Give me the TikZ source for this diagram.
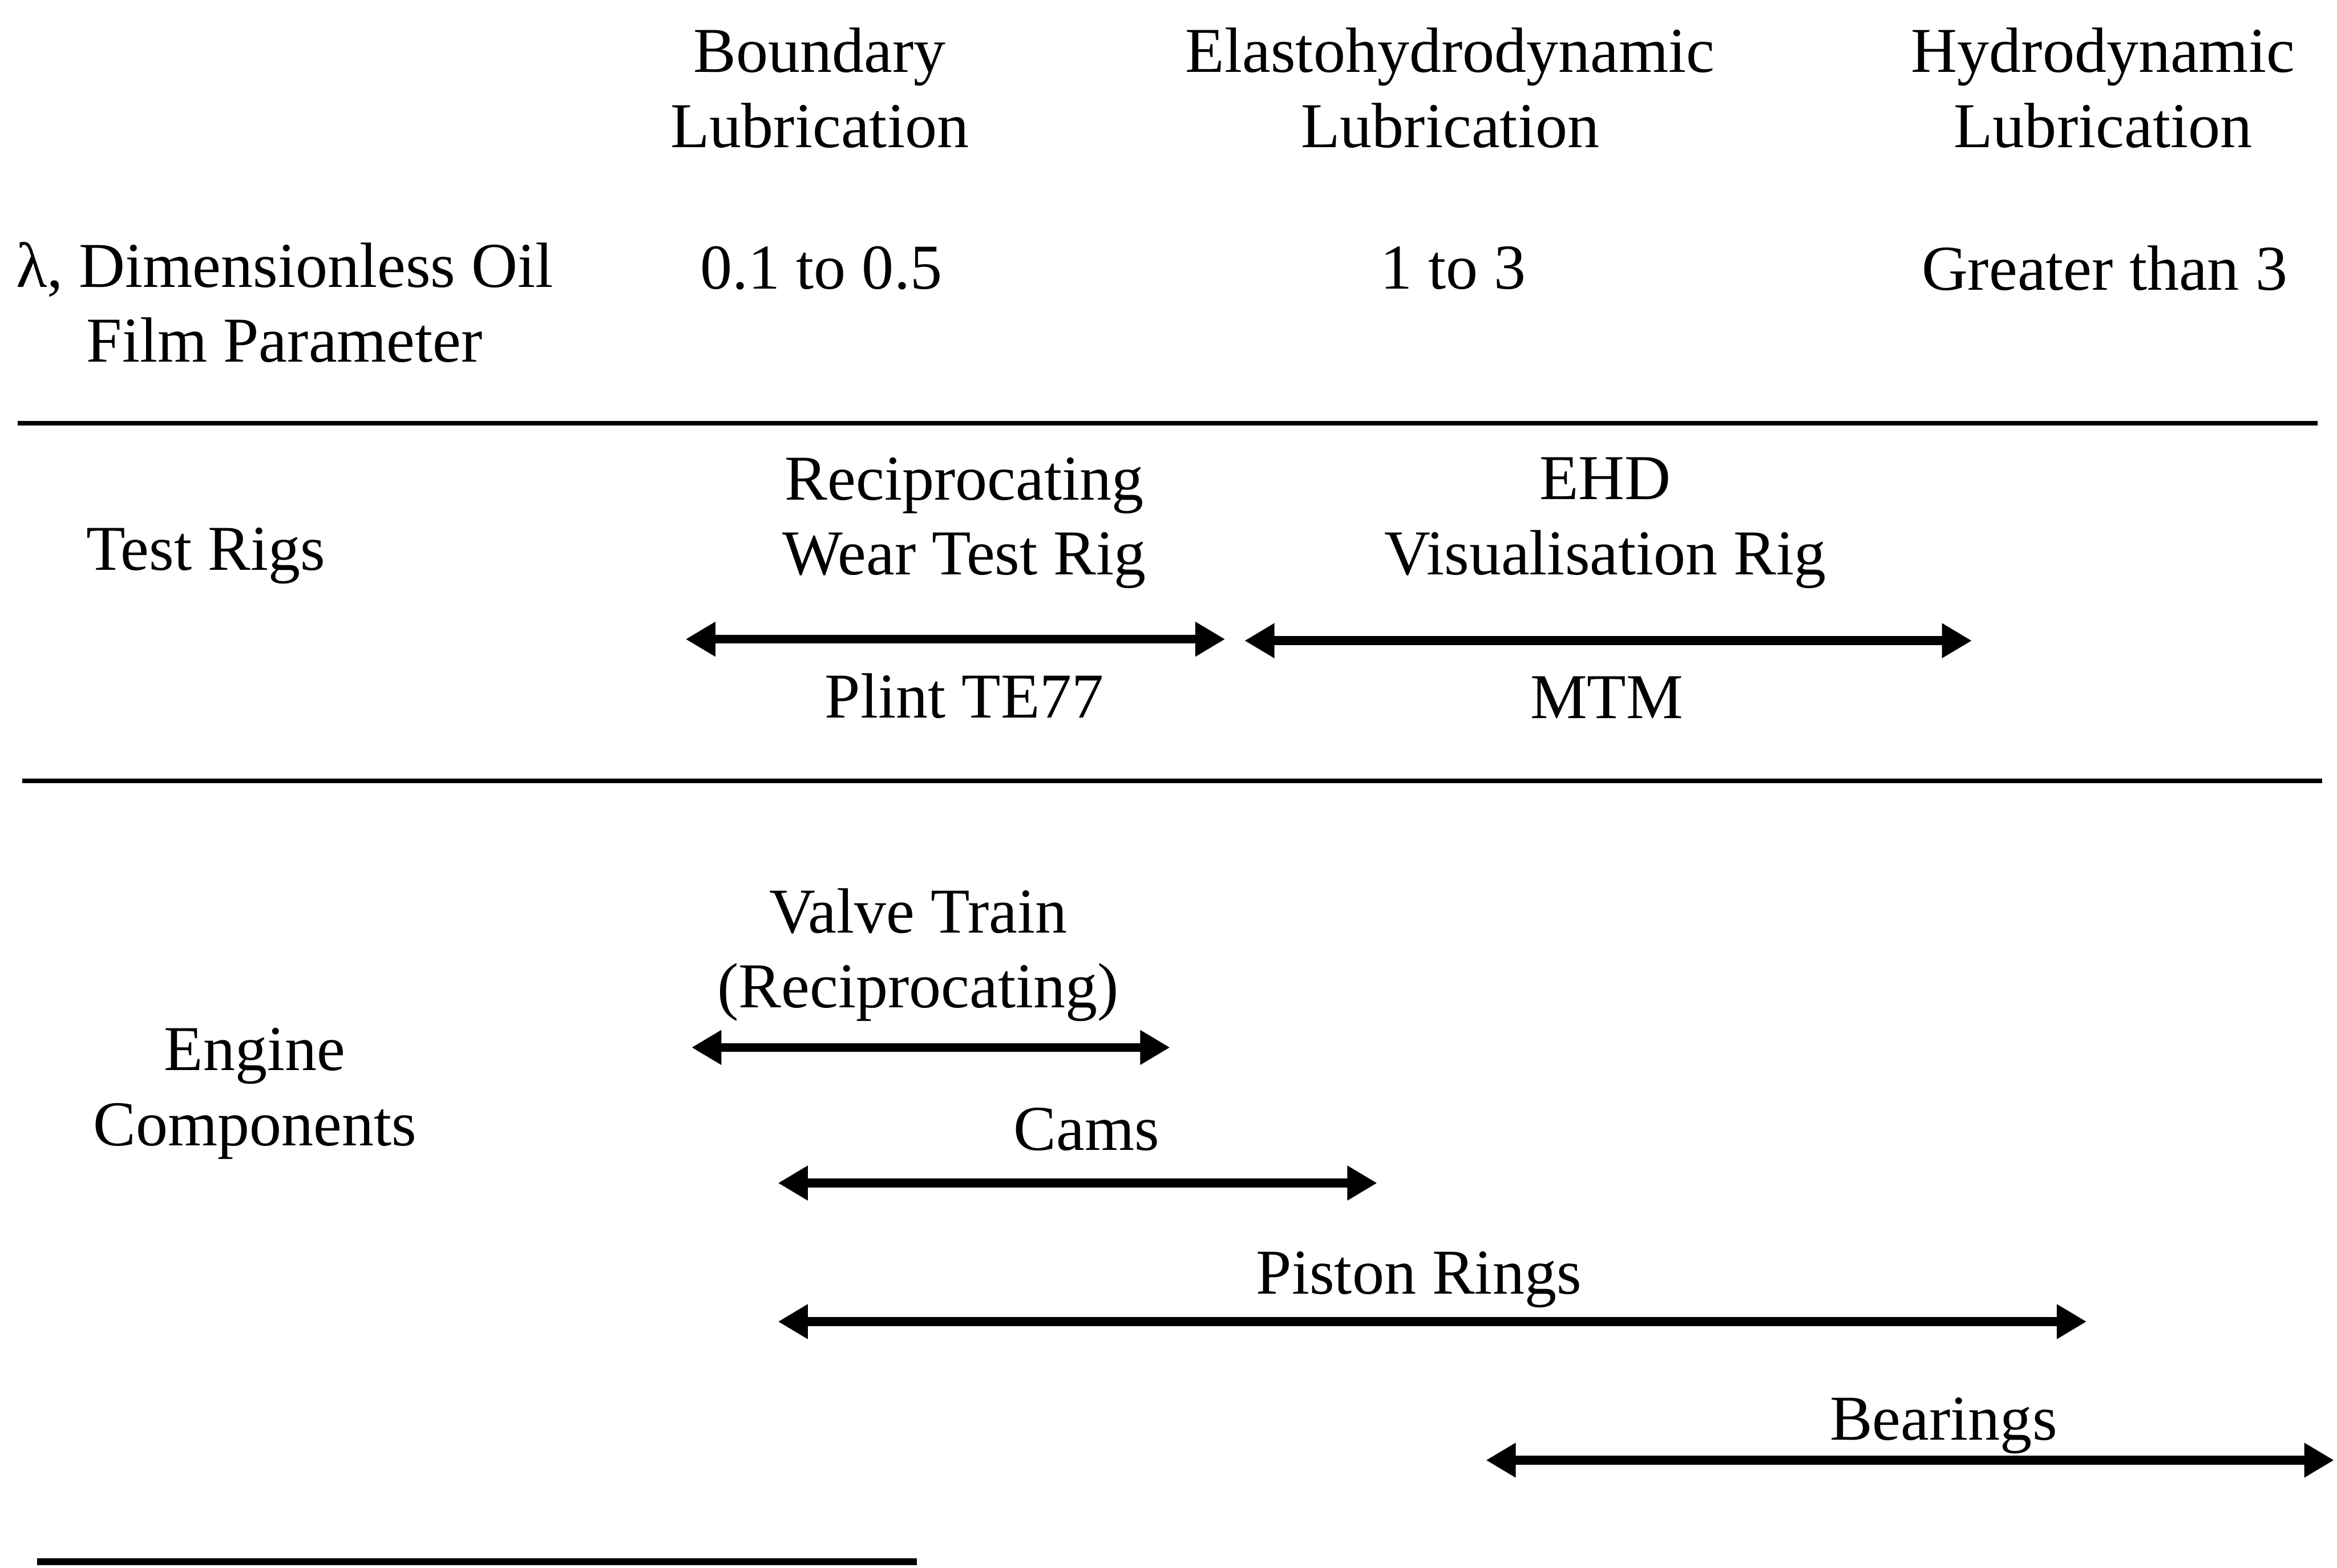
\documentclass[tikz,border=0pt]{standalone}
\usepackage{fontspec}
\setmainfont{Liberation Serif}
\usetikzlibrary{arrows.meta}
\begin{document}
\begin{tikzpicture}[x=0.01cm,y=-0.01cm,
  lbl/.style={inner sep=0pt,align=center,font=\fontsize{12.2}{14.3}\selectfont},
  rng/.style={line width=1.7pt,{Triangle[length=0.2cm,width=0.22cm]}-{Triangle[length=0.2cm,width=0.22cm]}},
  rule/.style={line width=0.9pt}]
\useasboundingbox (0,0) rectangle (1568,1052);
% column headers
\node[lbl] (hb) at (550,59) {Boundary\\Lubrication};
\node[lbl] (he) at (973,59) {Elastohydrodynamic\\Lubrication};
\node[lbl] (hh) at (1411,59) {Hydrodynamic\\Lubrication};
% lambda row
\node[lbl] (lam) at (191,203) {λ, Dimensionless Oil\\Film Parameter};
\node[lbl] (l1) at (551,180) {0.1 to 0.5};
\node[lbl] (l2) at (975,180) {1 to 3};
\node[lbl] (l3) at (1412,180) {Greater than 3};
% rule 1
\coordinate (r1a) at (12,284); \coordinate (r1b) at (1555,284);
\draw[rule] (r1a) -- (r1b);
% test rigs
\node[lbl] (tr) at (138,373) {Test Rigs};
\node[lbl] (rw) at (647,351) {Reciprocating\\Wear Test Rig};
\node[lbl] (ehd) at (1077,351) {EHD\\Visualisation Rig};
\coordinate (a1s) at (460,429); \coordinate (a1e) at (822,429);
\coordinate (a2s) at (835,430); \coordinate (a2e) at (1323,430);
\draw[rng] (a1s) -- (a1e);
\draw[rng] (a2s) -- (a2e);
\node[lbl] (pl) at (647,467) {Plint TE77};
\node[lbl] (mtm) at (1078,468) {MTM};
% rule 2
\coordinate (r2a) at (15,524); \coordinate (r2b) at (1558,524);
\draw[rule] (r2a) -- (r2b);
% engine components
\node[lbl] (ec) at (171,734) {Engine\\Components};
\node[lbl] (vt) at (616,641) {Valve Train\\(Reciprocating)};
\coordinate (a3s) at (464,703); \coordinate (a3e) at (785,703);
\draw[rng] (a3s) -- (a3e);
\node[lbl] (cams) at (729,758) {Cams};
\coordinate (a4s) at (522,794); \coordinate (a4e) at (924,794);
\draw[rng] (a4s) -- (a4e);
\node[lbl] (pr) at (952,859) {Piston Rings};
\coordinate (a5s) at (522,887); \coordinate (a5e) at (1400,887);
\draw[rng] (a5s) -- (a5e);
\node[lbl] (br) at (1304,957) {Bearings};
\coordinate (a6s) at (997,980); \coordinate (a6e) at (1566,980);
\draw[rng] (a6s) -- (a6e);
% bottom rule (partial)
\coordinate (r3a) at (25,1048); \coordinate (r3b) at (615,1048);
\draw[line width=1.3pt] (r3a) -- (r3b);
\end{tikzpicture}
\end{document}
